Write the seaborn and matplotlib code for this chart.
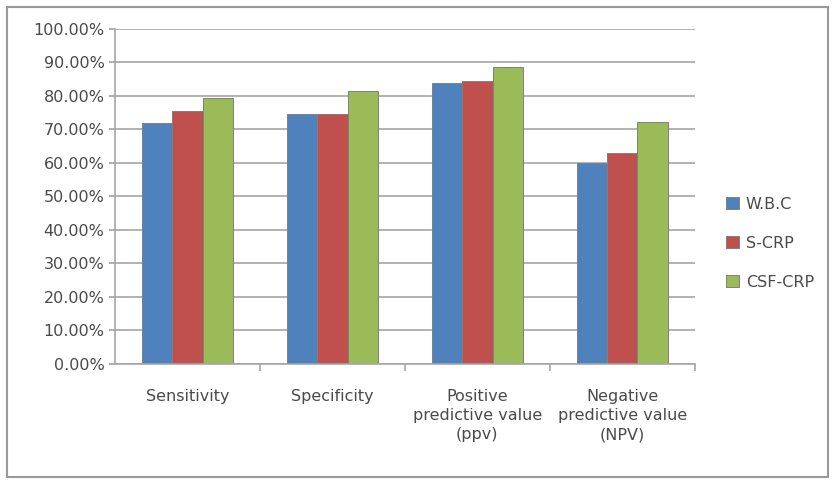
import pandas as pd
import matplotlib.pyplot as plt
import matplotlib.ticker as mtick
import seaborn as sns
from matplotlib.patches import Rectangle

categories = ['Sensitivity', 'Specificity', 'Positive\npredictive value\n(ppv)',
              'Negative\npredictive value\n(NPV)']
series = ['W.B.C', 'S-CRP', 'CSF-CRP']
wbc = [72.0, 74.7, 83.8, 59.9]
s_crp = [75.5, 74.7, 84.6, 63.1]
csf_crp = [79.3, 81.4, 88.6, 72.3]
colors = ['#4F81BD', '#C0504D', '#9BBB59']

# long format for seaborn
rows = []
for name, vals in zip(series, [wbc, s_crp, csf_crp]):
    for c, v in zip(categories, vals):
        rows.append({'category': c, 'series': name, 'value': v})
df = pd.DataFrame(rows)

sns.set_theme(style='white')
plt.rcParams['font.family'] = ['DejaVu Sans']
text_color = '#4A4A4A'
grid_color = '#A6A6A6'

fig = plt.figure(figsize=(8.33, 4.82), dpi=100)
ax = fig.add_axes([0.138, 0.245, 0.696, 0.695])

sns.barplot(data=df, x='category', y='value', hue='series', palette=colors,
            saturation=1, width=0.63, gap=0, edgecolor='#808080', linewidth=0.7, ax=ax)

ax.set_ylim(0, 100)
ax.set_xlim(-0.5, 3.5)
ax.set_yticks(range(0, 101, 10))
ax.yaxis.set_major_formatter(mtick.FuncFormatter(lambda v, p: f'{v:.2f}%'))
ax.grid(axis='y', color=grid_color, linewidth=1.2)
ax.set_axisbelow(True)
ax.set_xlabel('')
ax.set_ylabel('')

for s in ['top', 'right']:
    ax.spines[s].set_visible(False)
for s in ['left', 'bottom']:
    ax.spines[s].set_color(grid_color)
    ax.spines[s].set_linewidth(1.2)

ax.tick_params(axis='y', colors=grid_color, labelcolor=text_color, labelsize=11.5,
               left=True, length=4, direction='out')
ax.tick_params(axis='x', which='major', bottom=False, labelcolor=text_color,
               labelsize=11.5, pad=12)
for lab in ax.get_xticklabels():
    lab.set_linespacing(1.35)
ax.set_xticks([0.5, 1.5, 2.5, 3.5], minor=True)
ax.tick_params(axis='x', which='minor', bottom=True, length=5, color=grid_color, width=1.2)

leg = ax.legend(loc='center left', bbox_to_anchor=(1.03, 0.36), frameon=False,
                fontsize=11.5, handlelength=0.8, handleheight=0.8,
                labelspacing=1.5, handletextpad=0.4)
for t in leg.get_texts():
    t.set_color(text_color)

fig.patches.append(Rectangle((0.008, 0.01), 0.986, 0.975, transform=fig.transFigure,
                             fill=False, edgecolor='#9A9A9A', linewidth=1.5))

fig.savefig('out.png', dpi=100)
